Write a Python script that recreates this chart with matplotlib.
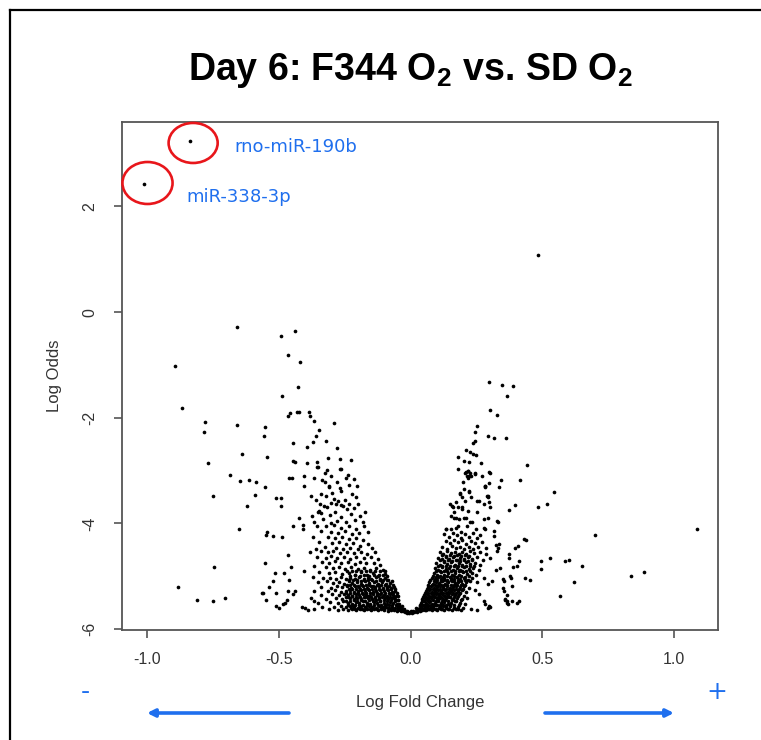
import matplotlib
matplotlib.use("Agg")
import matplotlib.pyplot as plt
from matplotlib.patches import Ellipse, FancyArrowPatch
from matplotlib.lines import Line2D

ARIAL = 'Liberation Sans'

# ---------------- data (logFC, log odds) ----------------
title = r'Day 6: F344 O$_{\mathrm{2}}$ vs. SD O$_{\mathrm{2}}$'
x_label = 'Log Fold Change'
y_label = 'Log Odds'
x_ticks = [-1.0, -0.5, 0.0, 0.5, 1.0]
y_ticks = [2, 0, -2, -4, -6]

labeled_names = ['rno-miR-190b', 'miR-338-3p']
labeled_points = [(-0.836, 3.24), (-1.010, 2.43)]

sparse_left = [
    (-0.657,-0.275),(-0.490,-0.458),(-0.438,-0.357),(-0.465,-0.812),(-0.420,-0.952),(-0.894,-1.027),
    (-0.425,-1.425),(-0.486,-1.583),(-0.865,-1.816),(-0.465,-1.975),(-0.455,-1.918),(-0.431,-1.89),
    (-0.422,-1.89),(-0.384,-1.90),(-0.380,-1.975),(-0.366,-2.057),(-0.289,-2.095),(-0.780,-2.076),
    (-0.783,-2.27),(-0.657,-2.13),(-0.552,-2.17),(-0.555,-2.354),(-0.345,-2.235),(-0.357,-2.354),
    (-0.371,-2.455),(-0.319,-2.449),(-0.394,-2.55),(-0.277,-2.575),(-0.639,-2.69),(-0.545,-2.75),
    (-0.445,-2.487),(-0.444,-2.815),(-0.436,-2.83),(-0.767,-2.866),(-0.394,-2.866),(-0.355,-2.83),
    (-0.353,-2.93),(-0.312,-2.76),(-0.269,-2.78),(-0.266,-2.98),(-0.224,-2.81),(-0.686,-3.09),
    (-0.648,-3.19),(-0.611,-3.18),(-0.585,-3.21),(-0.552,-3.32),(-0.459,-3.14),(-0.449,-3.14),
    (-0.404,-3.11),(-0.367,-3.14),(-0.337,-3.18),(-0.325,-3.21),(-0.237,-3.08),(-0.216,-3.16),
    (-0.402,-3.30),(-0.309,-3.32),(-0.269,-3.33),(-0.204,-3.29),(-0.749,-3.48),(-0.590,-3.46),
    (-0.510,-3.52),(-0.490,-3.52),(-0.377,-3.48),(-0.319,-3.48),(-0.289,-3.54),(-0.621,-3.675),
    (-0.490,-3.675),(-0.342,-3.64),(-0.327,-3.67),(-0.283,-3.64),(-0.254,-3.67),(-0.234,-3.64),
    (-0.216,-3.71),(-0.198,-3.64),(-0.172,-3.79),(-0.348,-3.76),(-0.341,-3.81),(-0.422,-3.89),
    (-0.373,-3.86),(-0.649,-4.10),(-0.444,-4.05),(-0.409,-4.03),(-0.406,-4.11),(-0.486,-4.26),
    (-0.545,-4.16),(-0.547,-4.22),(-0.520,-4.24),(-0.466,-4.60),(-0.746,-4.82),(-0.552,-4.76),
    (-0.453,-4.82),(-0.402,-4.91),(-0.515,-4.94),(-0.478,-4.94),(-0.522,-5.09),(-0.460,-5.07),
    (-0.882,-5.20),(-0.538,-5.20),(-0.563,-5.31),(-0.559,-5.31),(-0.510,-5.31),(-0.466,-5.28),
    (-0.447,-5.33),(-0.439,-5.28),(-0.808,-5.46),(-0.748,-5.48),(-0.702,-5.42),(-0.547,-5.46),
    (-0.469,-5.46),(-0.511,-5.56),(-0.500,-5.61),(-0.482,-5.53),(-0.475,-5.51),(-0.412,-5.58),
    (-0.399,-5.61),(-0.387,-5.64),(-0.364,-5.48),(-0.367,-5.62),
]

sparse_right = [
    (0.484,1.08),(0.298,-1.324),(0.347,-1.387),(0.387,-1.406),(0.367,-1.584),(0.302,-1.855),(0.329,-1.956),
    (0.253,-2.152),(0.243,-2.278),(0.244,-2.449),(0.237,-2.474),(0.292,-2.348),(0.318,-2.392),
    (0.363,-2.392),(0.211,-2.607),(0.225,-2.657),(0.249,-2.708),(0.237,-2.689),(0.179,-2.746),
    (0.202,-2.816),(0.223,-2.847),(0.267,-2.866),(0.440,-2.904),(0.179,-2.968),(0.208,-3.049),
    (0.217,-3.018),(0.223,-3.100),(0.244,-3.056),(0.298,-3.037),(0.342,-3.181),(0.335,-3.32),
    (0.414,-3.18),(0.283,-3.30),(0.290,-3.48),(0.295,-3.51),(0.545,-3.40),(0.484,-3.69),
    (0.516,-3.64),(0.398,-3.66),(0.372,-3.75),(0.280,-3.64),(0.302,-3.70),(0.295,-3.90),
    (0.331,-3.97),(0.280,-4.08),(0.316,-4.14),(1.086,-4.10),(0.700,-4.22),(0.436,-4.32),
    (0.407,-4.43),(0.324,-4.41),(0.332,-4.46),(0.374,-4.58),(0.288,-4.58),(0.302,-4.65),
    (0.527,-4.65),(0.495,-4.71),(0.495,-4.87),(0.586,-4.71),(0.601,-4.69),(0.652,-4.81),
    (0.885,-4.93),(0.836,-5.00),(0.410,-4.71),(0.390,-4.82),(0.324,-4.89),(0.338,-4.84),
    (0.433,-5.04),(0.453,-5.07),(0.350,-5.05),(0.382,-5.04),(0.280,-5.04),(0.309,-5.09),
    (0.295,-5.15),(0.618,-5.12),(0.350,-5.22),(0.355,-5.28),(0.367,-5.36),(0.251,-5.12),
    (0.246,-5.27),(0.260,-5.34),(0.565,-5.38),(0.367,-5.47),(0.410,-5.48),(0.370,-5.53),
    (0.360,-5.46),(0.280,-5.48),(0.302,-5.58),(0.292,-5.61),(0.230,-5.63),(0.251,-5.64),
    (0.209,-3.02),(0.218,-3.004),(0.225,-3.055),(0.244,-3.07),(0.215,-3.10),(0.228,-3.10),
    (0.303,-3.04),(0.200,-3.21),(0.218,-3.14),(0.272,-3.10),(0.281,-3.30),(0.297,-3.24),
    (0.186,-3.42),(0.221,-3.40),(0.196,-3.51),(0.228,-3.51),(0.253,-3.57),(0.281,-3.32),
    (0.293,-3.48),(0.297,-3.60),(0.159,-3.67),(0.171,-3.60),(0.181,-3.70),(0.196,-3.73),
    (0.218,-3.76),(0.152,-3.86),(0.165,-3.89),(0.184,-3.92),(0.203,-3.89),(0.234,-3.98),
    (0.278,-3.92),(0.328,-3.95),(0.429,-4.30),(0.133,-4.11),(0.152,-4.11),(0.171,-4.08),
    (0.190,-4.17),(0.215,-4.05),(0.247,-4.11),(0.253,-4.27),(0.284,-4.11),(0.316,-4.24),
    (0.335,-4.39),(0.328,-4.52),(0.372,-4.65),(0.398,-4.46),(0.404,-4.81),(0.379,-4.99),
    (0.354,-5.09),(0.385,-5.18),(0.360,-5.44),(0.385,-5.47),(0.404,-5.50),(0.284,-5.53),
    (0.297,-5.56),(0.366,-5.50),(0.150,-3.64),(0.162,-3.70),(0.165,-3.79),(0.172,-3.89),
    (0.186,-3.45),(0.201,-3.35),(0.223,-3.38),(0.208,-3.57),(0.194,-3.70),(0.211,-3.89),
    (0.225,-3.98),(0.251,-3.79),(0.259,-3.57),(0.179,-4.05),(0.136,-4.11),
]

dense_left = [
    (-0.351,-2.94),(-0.316,-2.99),(-0.265,-2.97),(-0.325,-3.05),(-0.300,-3.10),(-0.280,-3.22),(-0.245,-3.15),
    (-0.232,-3.27),(-0.310,-3.30),(-0.262,-3.38),(-0.296,-3.42),(-0.338,-3.45),(-0.220,-3.45),(-0.250,-3.55),
    (-0.275,-3.58),(-0.360,-3.55),(-0.205,-3.50),
    (-0.300,-3.62),(-0.318,-3.70),(-0.262,-3.66),(-0.240,-3.73),(-0.285,-3.78),(-0.350,-3.78),(-0.225,-3.82),
    (-0.305,-3.85),(-0.265,-3.88),(-0.190,-3.86),(-0.330,-3.92),(-0.280,-3.95),(-0.245,-3.97),(-0.210,-3.93),
    (-0.365,-3.98),(-0.300,-4.00),(-0.180,-3.98),
    (-0.355,-4.05),(-0.320,-4.06),(-0.290,-4.04),(-0.262,-4.08),(-0.235,-4.05),(-0.205,-4.10),(-0.175,-4.06),
    (-0.338,-4.15),(-0.300,-4.16),(-0.275,-4.18),(-0.248,-4.14),(-0.222,-4.20),(-0.195,-4.18),(-0.160,-4.16),
    (-0.370,-4.25),(-0.312,-4.25),(-0.285,-4.28),(-0.258,-4.26),(-0.232,-4.30),(-0.208,-4.27),(-0.180,-4.32),
    (-0.345,-4.35),(-0.298,-4.38),(-0.270,-4.36),(-0.245,-4.40),(-0.218,-4.38),(-0.190,-4.42),(-0.160,-4.40),
    (-0.325,-4.45),(-0.283,-4.47),(-0.255,-4.48),(-0.230,-4.46),(-0.200,-4.49),(-0.145,-4.46),(-0.360,-4.48),
    (-0.380,-4.55),(-0.340,-4.52),(-0.312,-4.55),(-0.292,-4.53),(-0.268,-4.56),(-0.242,-4.54),(-0.215,-4.57),
    (-0.188,-4.55),(-0.165,-4.58),(-0.135,-4.55),(-0.355,-4.63),(-0.322,-4.65),(-0.300,-4.62),(-0.278,-4.66),
    (-0.252,-4.64),(-0.228,-4.67),(-0.205,-4.63),(-0.178,-4.66),(-0.150,-4.64),(-0.125,-4.68),(-0.335,-4.73),
    (-0.308,-4.75),(-0.285,-4.72),(-0.262,-4.76),(-0.238,-4.74),(-0.212,-4.77),(-0.190,-4.73),(-0.168,-4.76),
    (-0.140,-4.75),(-0.115,-4.78),(-0.365,-4.80),(-0.320,-4.83),(-0.295,-4.85),(-0.272,-4.82),(-0.248,-4.86),
    (-0.225,-4.83),(-0.200,-4.87),(-0.178,-4.84),(-0.155,-4.88),(-0.130,-4.85),(-0.105,-4.88),(-0.345,-4.92),
    (-0.310,-4.95),(-0.285,-4.93),(-0.258,-4.96),(-0.235,-4.94),(-0.212,-4.97),(-0.188,-4.93),(-0.165,-4.97),
    (-0.142,-4.95),(-0.118,-4.98),(-0.095,-4.96),
    (-0.370,-5.02),(-0.330,-5.04),(-0.305,-5.03),(-0.282,-5.05),(-0.262,-5.02),(-0.245,-5.06),(-0.228,-5.03),
    (-0.210,-5.05),(-0.195,-5.02),(-0.178,-5.06),(-0.162,-5.03),(-0.148,-5.05),(-0.132,-5.02),(-0.115,-5.06),
    (-0.098,-5.04),(-0.085,-5.07),(-0.350,-5.12),(-0.318,-5.10),(-0.292,-5.13),(-0.270,-5.11),(-0.252,-5.14),
    (-0.235,-5.10),(-0.220,-5.13),(-0.204,-5.11),(-0.188,-5.14),(-0.172,-5.10),(-0.156,-5.13),(-0.140,-5.11),
    (-0.124,-5.14),(-0.108,-5.12),(-0.092,-5.15),(-0.078,-5.13),(-0.338,-5.20),(-0.300,-5.22),(-0.278,-5.19),
    (-0.258,-5.21),(-0.240,-5.18),(-0.225,-5.22),(-0.210,-5.19),(-0.196,-5.21),(-0.180,-5.18),(-0.165,-5.22),
    (-0.150,-5.19),(-0.135,-5.21),(-0.120,-5.18),(-0.104,-5.22),(-0.090,-5.20),(-0.074,-5.23),(-0.062,-5.21),
    (-0.365,-5.28),(-0.312,-5.29),(-0.285,-5.27),(-0.265,-5.30),(-0.246,-5.28),(-0.230,-5.27),(-0.215,-5.30),
    (-0.200,-5.28),(-0.186,-5.26),(-0.172,-5.29),(-0.158,-5.27),(-0.144,-5.30),(-0.130,-5.28),(-0.115,-5.26),
    (-0.100,-5.29),(-0.085,-5.27),(-0.070,-5.30),(-0.058,-5.28),
    (-0.340,-5.35),(-0.296,-5.34),(-0.270,-5.36),(-0.252,-5.33),(-0.238,-5.35),(-0.222,-5.37),(-0.208,-5.34),
    (-0.194,-5.36),(-0.180,-5.33),(-0.167,-5.35),(-0.154,-5.37),(-0.141,-5.34),(-0.128,-5.36),(-0.115,-5.33),
    (-0.102,-5.35),(-0.090,-5.37),(-0.078,-5.34),(-0.066,-5.36),(-0.054,-5.38),
    (-0.378,-5.42),(-0.320,-5.43),(-0.282,-5.41),(-0.260,-5.43),(-0.244,-5.40),(-0.229,-5.42),(-0.215,-5.44),
    (-0.201,-5.41),(-0.187,-5.43),(-0.173,-5.40),(-0.160,-5.42),(-0.147,-5.44),(-0.134,-5.41),(-0.121,-5.43),
    (-0.108,-5.40),(-0.096,-5.42),(-0.084,-5.44),(-0.072,-5.41),(-0.060,-5.43),(-0.048,-5.45),
    (-0.350,-5.50),(-0.305,-5.49),(-0.275,-5.51),(-0.255,-5.48),(-0.238,-5.50),(-0.223,-5.52),(-0.208,-5.49),
    (-0.194,-5.51),(-0.180,-5.48),(-0.166,-5.50),(-0.153,-5.52),(-0.140,-5.49),(-0.127,-5.51),(-0.114,-5.48),
    (-0.101,-5.50),(-0.089,-5.52),(-0.077,-5.49),(-0.065,-5.51),(-0.053,-5.53),(-0.042,-5.52),
    (-0.335,-5.58),(-0.290,-5.59),(-0.265,-5.57),(-0.246,-5.59),(-0.230,-5.57),(-0.215,-5.58),(-0.200,-5.60),
    (-0.186,-5.57),(-0.172,-5.59),(-0.158,-5.57),(-0.145,-5.58),(-0.132,-5.60),(-0.119,-5.57),(-0.106,-5.59),
    (-0.094,-5.58),(-0.082,-5.60),(-0.070,-5.58),(-0.058,-5.60),(-0.046,-5.59),(-0.035,-5.61),(-0.025,-5.62),
    (-0.310,-5.63),(-0.275,-5.64),(-0.255,-5.62),(-0.238,-5.64),(-0.222,-5.63),(-0.207,-5.65),(-0.192,-5.63),
    (-0.178,-5.64),(-0.164,-5.62),(-0.150,-5.64),(-0.137,-5.63),(-0.124,-5.65),(-0.111,-5.63),(-0.099,-5.64),
    (-0.087,-5.66),(-0.075,-5.64),(-0.063,-5.65),(-0.051,-5.66),(-0.040,-5.65),(-0.030,-5.66),(-0.020,-5.67),
    (-0.010,-5.67),(0.000,-5.68),
]

dense_left_core = [
    (-0.240,-4.905),(-0.222,-4.90),(-0.205,-4.91),(-0.188,-4.90),(-0.170,-4.91),(-0.152,-4.90),(-0.134,-4.91),
    (-0.116,-4.90),(-0.098,-4.91),(-0.228,-4.99),(-0.210,-4.98),(-0.192,-4.99),(-0.175,-4.98),(-0.158,-4.99),
    (-0.140,-4.98),(-0.122,-4.99),(-0.105,-4.98),(-0.088,-4.99),
    (-0.232,-5.08),(-0.218,-5.07),(-0.203,-5.08),(-0.189,-5.09),(-0.175,-5.08),(-0.161,-5.07),(-0.146,-5.08),
    (-0.131,-5.09),(-0.117,-5.08),(-0.103,-5.07),(-0.089,-5.08),(-0.072,-5.09),
    (-0.242,-5.17),(-0.228,-5.16),(-0.214,-5.17),(-0.199,-5.18),(-0.184,-5.17),(-0.170,-5.16),(-0.156,-5.17),
    (-0.142,-5.18),(-0.128,-5.17),(-0.113,-5.16),(-0.098,-5.17),(-0.083,-5.18),(-0.068,-5.17),
    (-0.235,-5.245),(-0.221,-5.25),(-0.206,-5.24),(-0.191,-5.25),(-0.177,-5.24),(-0.162,-5.25),(-0.147,-5.24),
    (-0.133,-5.25),(-0.118,-5.24),(-0.103,-5.25),(-0.088,-5.24),(-0.073,-5.25),(-0.060,-5.24),
    (-0.244,-5.315),(-0.229,-5.32),(-0.214,-5.31),(-0.199,-5.32),(-0.185,-5.31),(-0.170,-5.32),(-0.155,-5.31),
    (-0.141,-5.32),(-0.126,-5.31),(-0.111,-5.32),(-0.096,-5.31),(-0.082,-5.32),(-0.067,-5.31),(-0.052,-5.32),
    (-0.236,-5.39),(-0.221,-5.38),(-0.206,-5.39),(-0.191,-5.40),(-0.177,-5.39),(-0.162,-5.38),(-0.148,-5.39),
    (-0.133,-5.40),(-0.118,-5.39),(-0.104,-5.38),(-0.090,-5.39),(-0.076,-5.40),(-0.062,-5.39),(-0.049,-5.38),
    (-0.245,-5.465),(-0.230,-5.47),(-0.216,-5.46),(-0.201,-5.47),(-0.187,-5.46),(-0.172,-5.47),(-0.158,-5.46),
    (-0.144,-5.47),(-0.130,-5.46),(-0.116,-5.47),(-0.102,-5.46),(-0.088,-5.47),(-0.074,-5.46),(-0.060,-5.47),
    (-0.047,-5.46),
    (-0.238,-5.54),(-0.223,-5.55),(-0.209,-5.54),(-0.194,-5.55),(-0.180,-5.54),(-0.166,-5.55),(-0.152,-5.54),
    (-0.138,-5.55),(-0.124,-5.54),(-0.110,-5.55),(-0.096,-5.54),(-0.083,-5.55),(-0.070,-5.54),(-0.056,-5.55),
    (-0.043,-5.56),(-0.031,-5.57),
    (-0.225,-5.61),(-0.211,-5.62),(-0.197,-5.61),(-0.183,-5.62),(-0.169,-5.61),(-0.155,-5.62),(-0.141,-5.61),
    (-0.127,-5.62),(-0.113,-5.61),(-0.100,-5.62),(-0.087,-5.61),(-0.074,-5.62),(-0.061,-5.63),(-0.049,-5.63),
    (-0.037,-5.64),(-0.026,-5.65),(-0.015,-5.66),
]

dense_center = [
    (-0.045,-5.62),(-0.035,-5.66),(-0.015,-5.69),(0.005,-5.69),(0.015,-5.68),(0.025,-5.67),(0.035,-5.66),
    (0.045,-5.65),(-0.005,-5.69),(0.010,-5.66),(-0.025,-5.65),(0.030,-5.63),(0.055,-5.64),(0.065,-5.62),
    (-0.008,-5.675),(0.002,-5.665),(0.020,-5.655),(-0.030,-5.64),(0.040,-5.62),(-0.040,-5.60),
]

dense_right = [
    (0.128,-4.20),(0.145,-4.25),(0.160,-4.18),(0.175,-4.22),(0.192,-4.28),(0.208,-4.20),(0.222,-4.26),
    (0.238,-4.19),(0.262,-4.22),(0.135,-4.33),(0.150,-4.38),(0.165,-4.31),(0.180,-4.36),(0.196,-4.32),
    (0.212,-4.39),(0.228,-4.34),(0.245,-4.37),(0.270,-4.35),(0.120,-4.45),(0.140,-4.48),(0.157,-4.43),
    (0.172,-4.47),(0.188,-4.44),(0.204,-4.49),(0.220,-4.45),(0.236,-4.48),(0.255,-4.44),(0.285,-4.47),
    (0.110,-4.55),(0.125,-4.58),(0.140,-4.53),(0.155,-4.57),(0.168,-4.54),(0.182,-4.59),(0.196,-4.55),
    (0.210,-4.58),(0.226,-4.53),(0.242,-4.57),(0.262,-4.55),(0.105,-4.65),(0.118,-4.68),(0.133,-4.63),
    (0.147,-4.67),(0.161,-4.64),(0.175,-4.69),(0.189,-4.65),(0.203,-4.68),(0.218,-4.63),(0.234,-4.67),
    (0.252,-4.64),(0.275,-4.70),(0.098,-4.75),(0.112,-4.78),(0.126,-4.73),(0.140,-4.77),(0.154,-4.74),
    (0.168,-4.79),(0.182,-4.75),(0.196,-4.78),(0.211,-4.73),(0.227,-4.77),(0.245,-4.75),(0.265,-4.79),
    (0.092,-4.85),(0.105,-4.88),(0.119,-4.83),(0.133,-4.87),(0.147,-4.84),(0.161,-4.89),(0.175,-4.85),
    (0.189,-4.88),(0.204,-4.83),(0.220,-4.87),(0.238,-4.85),(0.258,-4.89),(0.088,-4.95),(0.101,-4.98),
    (0.114,-4.93),(0.128,-4.97),(0.142,-4.94),(0.156,-4.98),(0.170,-4.95),(0.184,-4.97),(0.199,-4.93),
    (0.215,-4.96),(0.232,-4.94),(0.250,-4.98),
    (0.080,-5.03),(0.092,-5.06),(0.104,-5.02),(0.116,-5.05),(0.128,-5.03),(0.140,-5.07),(0.152,-5.04),
    (0.164,-5.06),(0.176,-5.02),(0.189,-5.05),(0.203,-5.03),(0.218,-5.07),(0.235,-5.04),(0.072,-5.12),
    (0.084,-5.14),(0.096,-5.11),(0.108,-5.13),(0.120,-5.10),(0.132,-5.14),(0.144,-5.12),(0.156,-5.10),
    (0.168,-5.13),(0.181,-5.11),(0.195,-5.14),(0.210,-5.12),(0.226,-5.10),(0.065,-5.21),(0.077,-5.19),
    (0.089,-5.22),(0.101,-5.20),(0.113,-5.18),(0.125,-5.21),(0.137,-5.19),(0.149,-5.22),(0.161,-5.20),
    (0.174,-5.18),(0.188,-5.21),(0.203,-5.19),(0.220,-5.22),(0.058,-5.29),(0.069,-5.27),(0.081,-5.30),
    (0.093,-5.28),(0.105,-5.26),(0.117,-5.29),(0.129,-5.27),(0.141,-5.30),(0.153,-5.28),(0.166,-5.26),
    (0.180,-5.29),(0.196,-5.27),(0.212,-5.30),
    (0.050,-5.36),(0.061,-5.34),(0.072,-5.37),(0.084,-5.35),(0.096,-5.33),(0.108,-5.36),(0.120,-5.34),
    (0.132,-5.37),(0.144,-5.35),(0.157,-5.33),(0.170,-5.36),(0.185,-5.34),(0.202,-5.37),(0.045,-5.43),
    (0.055,-5.41),(0.066,-5.44),(0.077,-5.42),(0.089,-5.40),(0.100,-5.43),(0.112,-5.41),(0.124,-5.44),
    (0.136,-5.42),(0.149,-5.40),(0.162,-5.43),(0.177,-5.41),(0.194,-5.44),(0.215,-5.42),(0.040,-5.50),
    (0.050,-5.48),(0.060,-5.51),(0.071,-5.49),(0.082,-5.52),(0.093,-5.50),(0.104,-5.48),(0.116,-5.51),
    (0.128,-5.49),(0.141,-5.52),(0.155,-5.50),(0.170,-5.48),(0.187,-5.51),(0.208,-5.53),(0.035,-5.57),
    (0.045,-5.55),(0.055,-5.58),(0.065,-5.56),(0.076,-5.59),(0.087,-5.57),(0.098,-5.55),(0.110,-5.58),
    (0.122,-5.56),(0.135,-5.59),(0.149,-5.57),(0.164,-5.60),(0.181,-5.58),(0.200,-5.61),(0.030,-5.63),
    (0.040,-5.64),(0.050,-5.62),(0.060,-5.65),(0.070,-5.63),(0.080,-5.64),(0.091,-5.62),(0.102,-5.65),
    (0.114,-5.63),(0.127,-5.64),(0.141,-5.62),(0.156,-5.64),(0.172,-5.63),(0.190,-5.65),
]

dense_right_core = [
    (0.118,-4.60),(0.133,-4.61),(0.148,-4.60),(0.163,-4.61),(0.178,-4.60),(0.193,-4.61),(0.208,-4.60),(0.223,-4.61),
    (0.112,-4.70),(0.127,-4.71),(0.142,-4.70),(0.157,-4.71),(0.172,-4.70),(0.187,-4.71),(0.202,-4.70),(0.217,-4.71),
    (0.232,-4.70),
    (0.105,-4.80),(0.120,-4.81),(0.135,-4.80),(0.150,-4.81),(0.165,-4.80),(0.180,-4.81),(0.195,-4.80),(0.210,-4.81),
    (0.225,-4.80),(0.240,-4.81),
    (0.098,-4.90),(0.112,-4.91),(0.126,-4.90),(0.140,-4.91),(0.154,-4.90),(0.168,-4.91),(0.182,-4.90),(0.196,-4.91),
    (0.211,-4.90),(0.226,-4.91),
    (0.085,-5.00),(0.098,-5.01),(0.111,-5.00),(0.124,-5.01),(0.137,-5.00),(0.150,-5.01),(0.163,-5.00),(0.176,-5.01),
    (0.190,-5.00),(0.205,-5.01),(0.222,-5.00),
    (0.075,-5.08),(0.088,-5.09),(0.101,-5.08),(0.114,-5.09),(0.127,-5.08),(0.140,-5.09),(0.153,-5.08),(0.166,-5.09),
    (0.179,-5.08),(0.193,-5.09),(0.208,-5.08),
    (0.068,-5.16),(0.080,-5.17),(0.092,-5.16),(0.104,-5.17),(0.116,-5.16),(0.128,-5.17),(0.140,-5.16),(0.152,-5.17),
    (0.165,-5.16),(0.178,-5.17),(0.192,-5.16),(0.207,-5.17),
    (0.062,-5.245),(0.074,-5.25),(0.086,-5.24),(0.098,-5.25),(0.110,-5.24),(0.122,-5.25),(0.134,-5.24),(0.146,-5.25),
    (0.158,-5.24),(0.171,-5.25),(0.185,-5.24),(0.200,-5.25),
    (0.055,-5.315),(0.066,-5.32),(0.077,-5.31),(0.088,-5.32),(0.099,-5.31),(0.111,-5.32),(0.123,-5.31),(0.135,-5.32),
    (0.147,-5.31),(0.160,-5.32),(0.174,-5.31),(0.189,-5.32),
    (0.048,-5.39),(0.059,-5.40),(0.070,-5.39),(0.081,-5.38),(0.092,-5.39),(0.103,-5.40),(0.114,-5.39),(0.126,-5.38),
    (0.138,-5.39),(0.151,-5.40),(0.165,-5.39),(0.181,-5.38),
    (0.042,-5.465),(0.052,-5.47),(0.062,-5.46),(0.073,-5.47),(0.084,-5.46),(0.095,-5.47),(0.106,-5.46),(0.118,-5.47),
    (0.130,-5.46),(0.143,-5.47),(0.157,-5.46),(0.173,-5.47),(0.192,-5.46),
    (0.036,-5.54),(0.046,-5.55),(0.056,-5.54),(0.066,-5.55),(0.077,-5.54),(0.088,-5.55),(0.099,-5.54),(0.111,-5.55),
    (0.123,-5.54),(0.136,-5.55),(0.150,-5.54),(0.166,-5.55),(0.184,-5.54),
    (0.022,-5.61),(0.032,-5.62),(0.042,-5.61),(0.052,-5.62),(0.063,-5.61),(0.074,-5.62),(0.085,-5.61),(0.096,-5.62),
    (0.108,-5.61),(0.120,-5.62),(0.133,-5.61),(0.147,-5.62),(0.163,-5.61),(0.180,-5.62),
]

# ---------------- drawing ----------------
W, H = 761, 740
BLUE = '#1f6fee'
RED = '#e8161b'

plt.rcParams['mathtext.fontset'] = 'custom'
plt.rcParams['mathtext.rm'] = ARIAL + ':bold'
plt.rcParams['mathtext.bf'] = ARIAL + ':bold'

fig = plt.figure(figsize=(W / 100, H / 100), dpi=100)
fig.patch.set_facecolor('white')

def fx(px):
    return px / W

def fy(py):
    return 1 - py / H

ax = fig.add_axes([fx(121.7), fy(630), fx(718.3) - fx(121.7), fy(122) - fy(630)])

groups = [sparse_left, sparse_right, dense_left, dense_left_core, dense_center,
          dense_right, dense_right_core, labeled_points]
for g in groups:
    xs = [p[0] for p in g]
    ys = [p[1] for p in g]
    ax.scatter(xs, ys, s=7, c='black', marker='o', linewidths=0, zorder=3)

ax.set_xlim(-1.0948, 1.1668)
ax.set_ylim(-6.02, 3.60)
ax.set_xticks(x_ticks)
ax.set_xticklabels([f'{v:.1f}' for v in x_ticks], fontfamily=ARIAL, fontsize=11.5)
ax.set_yticks(y_ticks)
ax.set_yticklabels([f'{v:d}' for v in y_ticks], fontfamily=ARIAL, fontsize=11.5,
                   rotation=90, va='center')
ax.tick_params(axis='both', direction='out', length=5.5, width=1.2, color='#555555',
               labelcolor='#333333')
ax.tick_params(axis='x', pad=10)
ax.tick_params(axis='y', pad=12)
for sp in ax.spines.values():
    sp.set_color('#555555')
    sp.set_linewidth(1.3)

# circles and labels
ellipses = [((-0.824, 3.203), 0.186, 0.758), ((-0.997, 2.445), 0.190, 0.795)]
for (cx, cy), w, h in ellipses:
    ax.add_patch(Ellipse((cx, cy), w, h, fill=False, edgecolor=RED, linewidth=1.9,
                         zorder=4, clip_on=False))
label_pos = [(-0.669, 3.127), (-0.851, 2.18)]
for name, (lx, ly) in zip(labeled_names, label_pos):
    ax.text(lx, ly, name, color=BLUE, fontsize=13, fontfamily='DejaVu Sans',
            ha='left', va='center')

# title and axis labels
fig.text(fx(410), fy(70), title, fontsize=27, fontweight='bold', fontfamily=ARIAL,
         ha='center', va='center', color='black')
fig.text(fx(420), fy(702), x_label, fontsize=12, fontfamily=ARIAL, ha='center',
         va='center', color='#333333')
fig.text(fx(55), fy(376), y_label, fontsize=12, fontfamily=ARIAL, ha='center',
         va='center', rotation=90, color='#333333')

# direction hints
fig.text(fx(85), fy(692), '-', fontsize=18, color=BLUE, ha='center', va='center',
         fontfamily='DejaVu Sans')
fig.text(fx(717), fy(692), '+', fontsize=18, color=BLUE, ha='center', va='center',
         fontfamily='DejaVu Sans')
arrow_kw = dict(arrowstyle='-|>', color=BLUE, lw=2.6, mutation_scale=11,
                shrinkA=0, shrinkB=0)
fig.add_artist(FancyArrowPatch((fx(289), fy(713)), (fx(147), fy(713)),
               transform=fig.transFigure, **arrow_kw))
fig.add_artist(FancyArrowPatch((fx(545), fy(713)), (fx(674), fy(713)),
               transform=fig.transFigure, **arrow_kw))

# outer slide frame (top and left edges)
fig.add_artist(Line2D([fx(10), fx(10)], [0, fy(10)], color='black', lw=1.6,
                      transform=fig.transFigure))
fig.add_artist(Line2D([fx(10), 1], [fy(10), fy(10)], color='black', lw=1.6,
                      transform=fig.transFigure))

fig.savefig('out.png', dpi=100, facecolor='white')
